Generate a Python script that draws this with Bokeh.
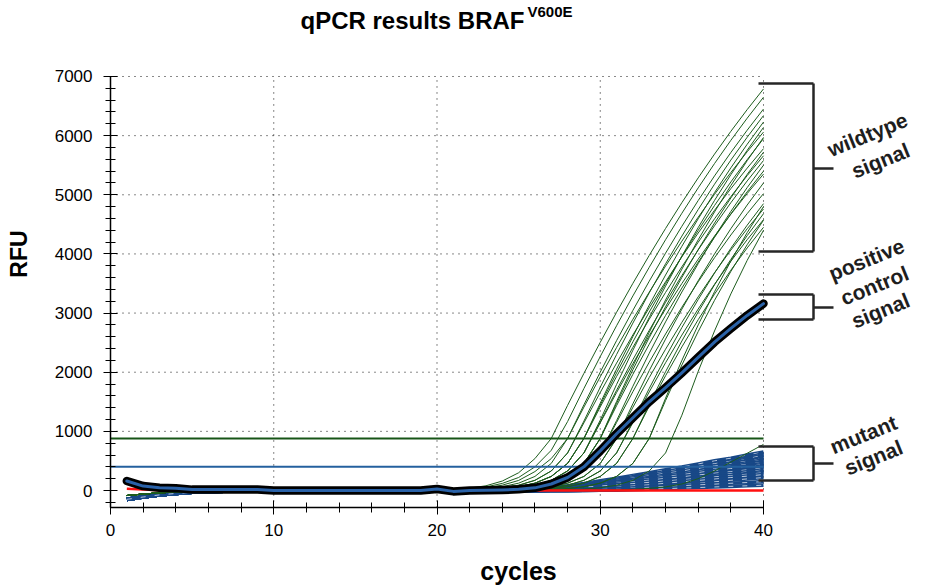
from bokeh.plotting import figure
from bokeh.models import Range1d, SingleIntervalTicker
from bokeh.embed import file_html
from bokeh.resources import INLINE
from bokeh.core.properties import value

# ---------------- data ----------------
cycles = list(range(1, 41))

# shared early baseline (cycles 1-21)
green_base = [-85, -60, -40, -25, -15, -8, -4, 0, 0, 0, 0, 0, 0, 0, 0, 0, 0, 0, 0, 0, 0]
blue_base = [-150, -110, -75, -50, -30, -18, -10, -5, 0, 0, 0, 0, 0, 0, 0, 0, 0, 0, 0, 0, 0]

# wildtype curves, cycles 22-40
wildtype = [
    [40, 80, 160, 300, 540, 880, 1440, 1981, 2506, 3013, 3503, 3975, 4430, 4867, 5286, 5688, 6073, 6440, 6790],
    [30, 60, 120, 220, 400, 680, 1166, 1725, 2265, 2786, 3290, 3774, 4240, 4688, 5117, 5528, 5921, 6295, 6650],
    [25, 45, 90, 170, 320, 540, 880, 1450, 2002, 2534, 3046, 3539, 4013, 4468, 4903, 5319, 5715, 6092, 6450],
    [17, 33, 64, 124, 238, 458, 880, 1410, 1923, 2418, 2895, 3353, 3794, 4216, 4621, 5008, 5377, 5727, 6060],
    [12, 24, 46, 89, 172, 330, 635, 1174, 1747, 2299, 2831, 3342, 3832, 4302, 4751, 5179, 5587, 5973, 6340],
    [12, 24, 46, 89, 172, 330, 635, 1144, 1658, 2154, 2631, 3089, 3529, 3951, 4354, 4738, 5104, 5451, 5780],
    [9, 17, 33, 64, 124, 238, 458, 880, 1477, 2052, 2604, 3135, 3643, 4130, 4594, 5036, 5456, 5854, 6230],
    [9, 17, 33, 64, 124, 238, 458, 880, 1413, 1927, 2421, 2895, 3349, 3783, 4198, 4594, 4969, 5324, 5660],
    [9, 17, 33, 64, 124, 238, 458, 880, 1446, 1990, 2514, 3017, 3499, 3960, 4400, 4819, 5217, 5594, 5950],
    [6, 12, 24, 46, 89, 172, 330, 635, 1190, 1793, 2371, 2926, 3456, 3963, 4446, 4905, 5340, 5752, 6140],
    [6, 12, 24, 46, 89, 172, 330, 635, 1157, 1695, 2212, 2708, 3182, 3635, 4067, 4477, 4866, 5234, 5580],
    [6, 12, 24, 46, 89, 172, 330, 635, 1144, 1656, 2147, 2618, 3069, 3500, 3911, 4301, 4671, 5021, 5350],
    [5, 9, 17, 33, 64, 124, 238, 458, 880, 1504, 2102, 2674, 3221, 3743, 4239, 4710, 5156, 5576, 5970],
    [5, 9, 17, 33, 64, 124, 238, 458, 880, 1473, 2042, 2586, 3106, 3603, 4074, 4522, 4946, 5345, 5720],
    [5, 9, 17, 33, 64, 124, 238, 458, 880, 1434, 1965, 2473, 2959, 3423, 3863, 4281, 4677, 5050, 5400],
    [3, 6, 12, 24, 46, 89, 172, 330, 635, 1181, 1763, 2320, 2851, 3356, 3836, 4290, 4719, 5122, 5500],
    [3, 6, 12, 24, 46, 89, 172, 330, 635, 1150, 1671, 2170, 2646, 3099, 3529, 3936, 4320, 4681, 5020],
    [2, 5, 9, 17, 33, 64, 124, 238, 458, 880, 1467, 2027, 2560, 3067, 3547, 4000, 4427, 4827, 5200],
    [2, 5, 9, 17, 33, 64, 124, 238, 458, 880, 1407, 1910, 2389, 2844, 3275, 3682, 4065, 4425, 4760],
    [1, 3, 6, 12, 24, 46, 89, 172, 330, 635, 1169, 1725, 2254, 2755, 3229, 3676, 4095, 4486, 4850],
    [1, 3, 6, 12, 24, 46, 89, 172, 330, 635, 1149, 1667, 2160, 2628, 3069, 3486, 3876, 4241, 4580],
    [1, 2, 5, 9, 17, 33, 64, 124, 238, 458, 880, 1459, 2008, 2528, 3018, 3478, 3908, 4309, 4680],
    [1, 2, 5, 9, 17, 33, 64, 124, 238, 458, 880, 1424, 1940, 2428, 2888, 3320, 3725, 4101, 4450],
    [0, 1, 2, 5, 9, 17, 33, 64, 124, 238, 458, 880, 1520, 2122, 2687, 3215, 3704, 4156, 4570],
    [0, 1, 2, 5, 9, 17, 33, 64, 124, 238, 458, 880, 1560, 2200, 2800, 3360, 3880, 4360, 4800],
    [0, 0, 1, 1, 3, 6, 12, 24, 46, 89, 172, 330, 635, 1273, 2014, 2698, 3324, 3891, 4400],
    [0, 0, 0, 0, 0, 0, 0, 2, 5, 10, 20, 35, 60, 110, 200, 330, 480, 630, 780],
]

# mutant curves, cycles 22-40
mutant = [
    [0, 0, 0, 7, 20, 46, 78, 117, 163, 208, 254, 299, 351, 397, 449, 501, 546, 598, 650],
    [0, 0, 0, 0, 0, 6, 19, 43, 81, 124, 174, 223, 279, 335, 391, 446, 502, 558, 620],
    [0, 0, 0, 6, 18, 41, 71, 106, 148, 189, 230, 271, 319, 360, 407, 454, 496, 543, 590],
    [0, 0, 0, 0, 0, 0, 0, 6, 18, 48, 90, 144, 204, 270, 336, 402, 468, 534, 600],
    [0, 0, 0, 0, 0, 6, 17, 39, 73, 112, 157, 202, 252, 302, 353, 403, 454, 504, 560],
    [0, 0, 0, 5, 16, 38, 65, 97, 135, 173, 211, 248, 292, 329, 373, 416, 454, 497, 540],
    [0, 0, 0, 0, 0, 5, 16, 36, 68, 104, 146, 187, 234, 281, 328, 374, 421, 468, 520],
    [0, 0, 0, 0, 0, 0, 0, 5, 15, 40, 75, 120, 170, 225, 280, 335, 390, 445, 500],
    [0, 0, 0, 5, 14, 34, 58, 86, 120, 154, 187, 221, 259, 293, 331, 370, 403, 442, 480],
    [0, 0, 0, 0, 0, 5, 14, 32, 60, 92, 129, 166, 207, 248, 290, 331, 373, 414, 460],
    [0, 0, 0, 4, 13, 31, 53, 79, 110, 141, 172, 202, 238, 268, 304, 339, 370, 405, 440],
    [0, 0, 0, 0, 0, 0, 0, 4, 13, 34, 63, 101, 143, 189, 235, 281, 328, 374, 420],
    [0, 0, 0, 0, 0, 4, 12, 28, 52, 80, 112, 144, 180, 216, 252, 288, 324, 360, 400],
    [0, 0, 0, 4, 11, 27, 46, 68, 95, 122, 148, 175, 205, 232, 262, 293, 319, 350, 380],
    [0, 0, 0, 0, 0, 4, 11, 25, 46, 70, 98, 126, 158, 189, 221, 252, 284, 315, 350],
    [0, 0, 0, 0, 0, 0, 0, 3, 10, 26, 48, 77, 109, 144, 179, 214, 250, 285, 320],
    [0, 0, 0, 3, 9, 21, 36, 54, 75, 96, 117, 138, 162, 183, 207, 231, 252, 276, 300],
    [0, 0, 0, 0, 0, 3, 8, 19, 35, 54, 76, 97, 122, 146, 170, 194, 219, 243, 270],
    [0, 0, 0, 0, 0, 0, 0, 2, 7, 18, 33, 53, 75, 99, 123, 147, 172, 196, 220],
    [0, 0, 0, 0, 0, 2, 5, 11, 20, 30, 42, 54, 68, 81, 95, 108, 122, 135, 150],
    [0, 0, 0, 0, 0, 0, 0, 1, 3, 7, 14, 22, 31, 41, 50, 60, 70, 80, 90],
]

# negative control (cycles 1-40)
negative = [30, 15, 5, 0, 0, 0, 0, 0, 0, 0, 0, 0, 0, 0, 0, 0, 0, 0, 0, 0,
            0, 0, 0, 0, 0, 0, 0, 0, 0, 0, 0, 0, 0, 0, 0, 0, 0, 0, 0, 0]

# positive control (cycles 1-40)
positive = [160, 75, 45, 40, 15, 15, 15, 15, 15, 0, 0, 0, 0, 0, 0, 0, 0, 0, 0, 25,
            -15, 0, 5, 10, 20, 45, 110, 220, 400, 670, 960, 1230, 1500, 1740, 1990,
            2250, 2510, 2740, 2960, 3160]

wt_threshold = 880
mut_threshold = 400

x_ticks = [10, 20, 30, 40]
y_ticks = [1000, 2000, 3000, 4000, 5000, 6000, 7000]
x_min, x_max = 0, 40
y_min, y_max = -287, 7000

title_main = "qPCR results BRAF"
title_sup = "V600E"
bracket_labels = [["wildtype", "signal"], ["positive", "control", "signal"], ["mutant", "signal"]]

# ---------------- figure ----------------
FONT = "Liberation Sans"

# pixel helpers for annotation placement (0 cycle at px 110, 0 RFU at px 490)
def X(px):
    return (px - 110) / 16.325

def Y(py):
    return (490 - py) / 0.059143

p = figure(width=926, height=587, output_backend="svg", toolbar_location=None,
           x_range=Range1d(0, X(926)), y_range=Range1d(Y(507), Y(0)),
           min_border_left=110, min_border_right=0, min_border_top=0, min_border_bottom=80)
p.outline_line_color = None
p.background_fill_color = "white"
p.border_fill_color = "white"
p.xgrid.visible = False
p.ygrid.visible = False

# axes
p.xaxis.ticker = SingleIntervalTicker(interval=10, num_minor_ticks=5)
p.yaxis.ticker = SingleIntervalTicker(interval=1000, num_minor_ticks=5)
p.xaxis.bounds = (x_min, x_max)
p.yaxis.bounds = (y_min, y_max)
for ax in (p.xaxis, p.yaxis):
    ax.axis_line_color = "black"
    ax.axis_line_width = 1.5
    ax.major_tick_line_color = "black"
    ax.minor_tick_line_color = "black"
    ax.major_tick_in = 7
    ax.major_tick_out = 7
    ax.minor_tick_in = 5
    ax.minor_tick_out = 5
    ax.major_label_text_font = FONT
    ax.major_label_text_font_size = "17px"
    ax.major_label_text_color = "black"
    ax.axis_label_text_font = FONT
    ax.axis_label_text_font_style = "bold"
    ax.axis_label_text_color = "black"
p.yaxis.axis_label = "RFU"
p.yaxis.axis_label_text_font_size = "23px"
p.yaxis.major_label_standoff = 11
p.yaxis.axis_label_standoff = 20
p.xaxis.axis_label = "cycles"
p.xaxis.axis_label_text_font_size = "25px"
p.xaxis.major_label_standoff = 9
p.xaxis.axis_label_standoff = 18

# dotted grid
p.segment(x0=x_ticks, x1=x_ticks, y0=[y_min] * len(x_ticks), y1=[y_max] * len(x_ticks),
          line_color="#111111", line_width=1, line_dash="1 5")
p.segment(x0=[x_min] * len(y_ticks), x1=[x_max] * len(y_ticks), y0=y_ticks, y1=y_ticks,
          line_color="#111111", line_width=1, line_dash="1 5")

# mutant curves (blue with white streaks)
for c in mutant:
    ys = blue_base + c
    p.line(cycles, ys, line_color="#184887", line_width=3.6)
    p.line(cycles, ys, line_color="white", line_width=0.7, line_dash="5 9")

# wildtype curves (thin green)
for c in wildtype:
    p.line(cycles, green_base + c, line_color="#1d5c1d", line_width=1.0)

# negative control
p.line(cycles, negative, line_color="#ff1010", line_width=2.5)

# thresholds
p.line([x_min, x_max], [wt_threshold, wt_threshold], line_color="#175517", line_width=2)
p.line([x_min, x_max], [mut_threshold, mut_threshold], line_color="#24609e", line_width=2)

# positive control
p.line(cycles, positive, line_color="black", line_width=8.5, line_join="round", line_cap="round")
p.line(cycles, positive, line_color="#2a62a8", line_width=3, line_join="round", line_cap="round")

# title with superscript
p.text(x=[X(300)], y=[Y(20)], text=[title_main], text_font=value(FONT), text_font_style="bold",
       text_font_size="24px", text_align="left", text_baseline="alphabetic", text_color="black")
p.text(x=[X(527)], y=[Y(11)], text=[title_sup], text_font=value(FONT), text_font_style="bold",
       text_font_size="15px", text_align="left", text_baseline="alphabetic", text_color="black")

# brackets (pixels: top, bottom, middle)
brackets = [(83, 251, 168), (294, 319, 307), (446, 480, 463)]
bx0, bx1, bx2 = X(758), X(813), X(833)
for top, bot, mid in brackets:
    p.segment(x0=[bx0, bx0, bx1, bx1], x1=[bx1, bx1, bx1, bx2],
              y0=[Y(top), Y(bot), Y(top), Y(mid)], y1=[Y(top), Y(bot), Y(bot), Y(mid)],
              line_color="#262626", line_width=2.5)

label_pos = [[(867, 134), (880, 160)], [(866, 259), (874, 285), (880, 310)], [(863, 434), (873, 457)]]
for words, poss in zip(bracket_labels, label_pos):
    p.text(x=[X(px) for px, _ in poss], y=[Y(py) for _, py in poss], text=words,
           text_font=value(FONT), text_font_style="bold", text_font_size="21px",
           text_align="center", text_baseline="middle", angle=0.384, text_color="#1e1e1e")

open("out.html", "w").write(file_html(p, INLINE))
